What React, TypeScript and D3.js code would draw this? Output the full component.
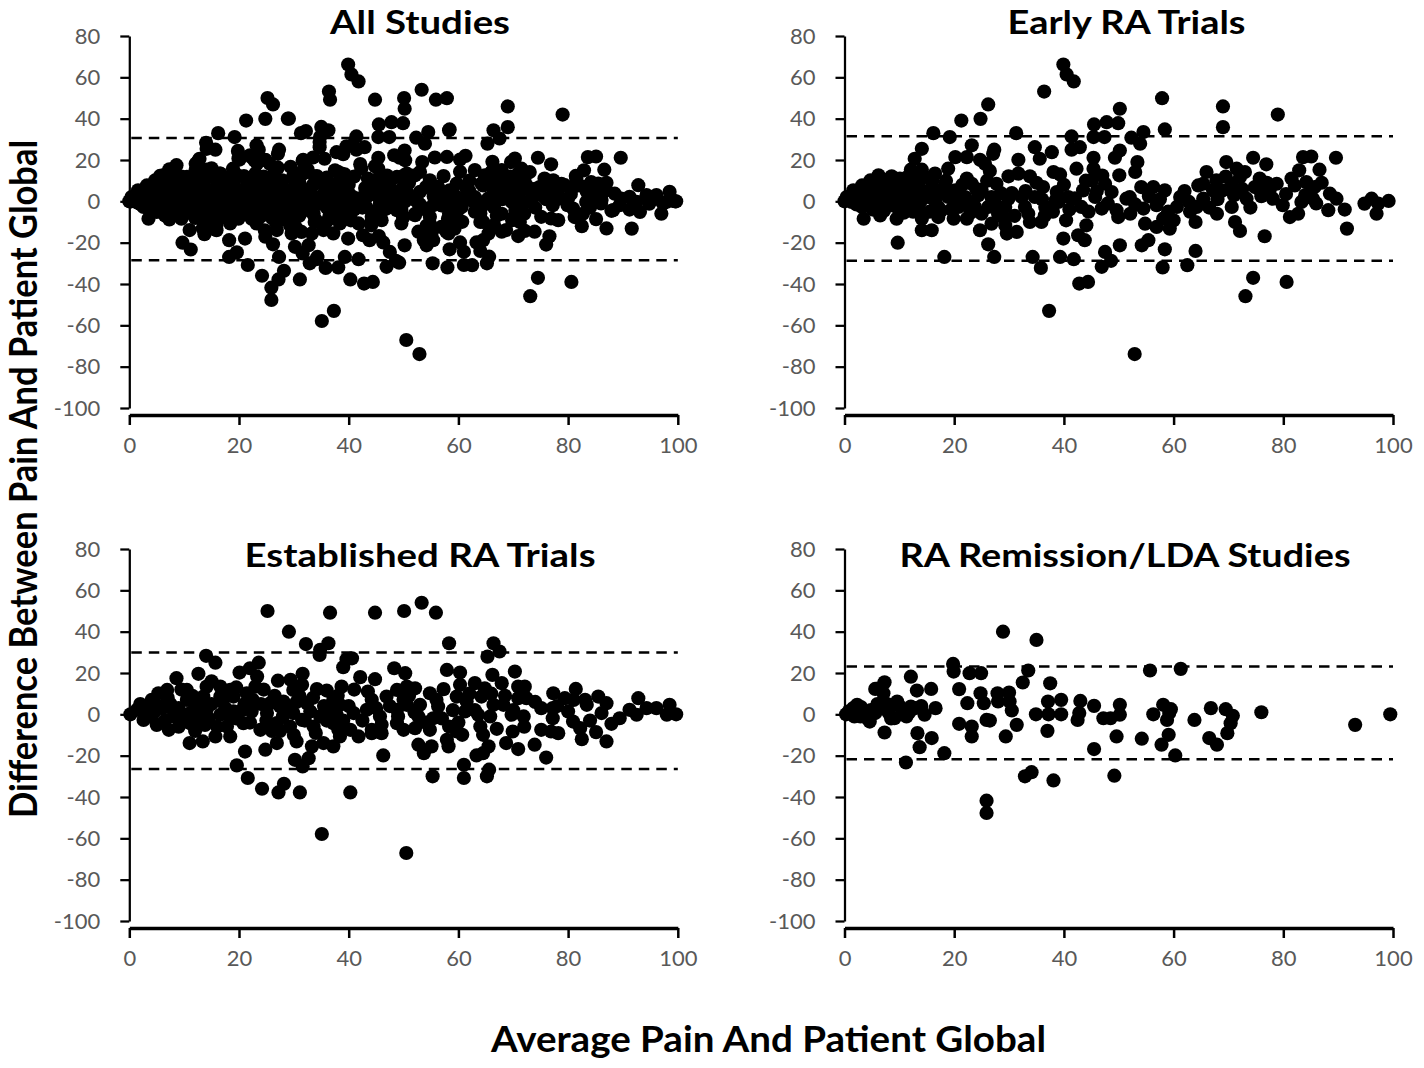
import React, { useEffect, useRef } from "react";
import * as d3 from "d3";

// [average, difference] pairs, per study group
const early: [number, number][] = [
  [0, 0], [0.4, 2.1], [1, 1.5], [1.3, -0.3], [1.6, 5.3], [2, 1], [2.2, -1.5], [2.5, 4], [2.8, 2.5], [3.2, 7.7],
  [3.2, -2.7], [3.5, -8.4], [3.5, 0.5], [3.8, 3.7], [4, 5.5], [4.2, 3], [4.5, -1], [4.7, 10.1], [5, 2.1], [5.2, -4],
  [5.5, 7], [5.8, 4], [6, 0.5], [6.2, 12.6], [6.2, -2.7], [6.5, -6.8], [6.8, 1.5], [7, 9], [7.2, -4.5], [7.4, 6.9],
  [7.5, -1], [7.8, 10.5], [8, 4.5], [8.2, 6], [8.6, 12.1], [8.6, 2.1], [8.8, -2], [9, 8], [9.2, 10], [9.5, 0],
  [9.5, -8.4], [9.7, -20], [9.8, -3.5], [10, 2.5], [10.1, 11], [10.5, 4], [10.8, -5.5], [11, -1.5], [11.1, 6.9], [11.5, 9],
  [11.6, 12], [12, -0.5], [12.1, 15.3], [12.3, 2.1], [12.5, -5], [12.8, 20.6], [12.8, 7], [13, 5], [13.2, 11], [13.5, 8.5],
  [13.5, -2.7], [14, 0.5], [14.1, 25.4], [14.1, 15.3], [14.1, -8.4], [14.1, -14], [14.7, 11.8], [14.8, 4.5], [15.3, 2.1], [15.5, -5],
  [15.9, 6.9], [15.9, -14], [16, 10], [16.2, 33], [16.5, 13.4], [16.5, 0], [17, 4], [17.1, -2.7], [17.1, -7.6], [17.6, -4.5],
  [18, 4], [18.2, -26.9], [18.3, 7.7], [18.5, 10], [18.9, 15.8], [18.9, 2.1], [19.2, 31.1], [19.5, -4], [19.9, -8.4], [20, 0],
  [20.2, 21.4], [20.2, 5.3], [20.8, -2.7], [21, -0.5], [21.3, 39.1], [21.5, 8], [22, 2.1], [22.3, 21.4], [22.3, 11], [22.3, -8.4],
  [22.6, -1], [23, -5.5], [23.2, 27.1], [23.2, 8.5], [23.8, -2.7], [24, 6], [24.4, 2.9], [24.7, 20.1], [24.7, -14], [24.8, 39.9],
  [25, 5.5], [25, -6], [25.6, 18.2], [26, 10], [26.2, 46.9], [26.2, -2.7], [26.2, -20.8], [26.5, 14.7], [26.8, 2.1], [26.8, -10.8],
  [27.1, 23], [27.3, 25], [27.3, -26.9], [27.5, -1], [27.7, 8.5], [28, -6], [28.5, 4], [29, -8], [29.3, -2.7], [29.3, -11.6],
  [29.6, -15.6], [29.9, 12.1], [29.9, 1.3], [30.5, 4], [31, -7], [31.3, 33], [31.4, -14.8], [31.7, 20.1], [31.7, 13.4], [32.3, 2.1],
  [32.9, -2.7], [33, 5], [33.5, -6], [33.8, 12.1], [33.8, -10], [34.3, -26.9], [34.7, 26.2], [34.7, 2.1], [35, 9], [35.6, 20.6],
  [35.8, -32.2], [35.9, -10], [36, 1], [36.2, 6.9], [36.4, 53.1], [36.5, -7], [36.6, -2.7], [36.9, -4.3], [37.3, -53], [37.8, 23.8],
  [38, -5], [38.1, 14.2], [38.5, 0.5], [38.7, 4.5], [39, -0.3], [39.3, 13], [39.3, -26.9], [39.9, 66.2], [39.9, -18], [40, 8],
  [40.4, -9.2], [40.5, 61.4], [40.8, 2.1], [41, -4], [41.4, 31.4], [41.4, 25], [41.8, 58], [41.8, -28], [42, 1.5], [42.3, 15.8],
  [42.6, -16.4], [42.8, -39.8], [42.9, 26.2], [43.2, -2.7], [43.5, 5.3], [43.8, -18.8], [44, 10], [44.1, -11.6], [44.4, -39], [44.5, -5],
  [45.1, 10.1], [45.4, 31.1], [45.4, 21.1], [45.4, 15.8], [45.5, 37.2], [45.7, 2.1], [46, 5], [46.9, -3.5], [46.9, -31.7], [47, 12.5],
  [47.4, 31.1], [47.5, 8.5], [47.5, -24.5], [47.8, 38.3], [48, -1], [48.6, -28.8], [48.7, 4.5], [49.3, 21.1], [49.6, -4.3], [49.9, 37.8],
  [49.9, -7.6], [50.1, 12.6], [50.2, 44.8], [50.2, -21.3], [50.2, 24.6], [51.4, 1.3], [52, 2], [52.1, -6], [52.3, 30.8], [52.9, -73.9],
  [53, 14.2], [53, -1.5], [53.4, 19], [53.9, 27.9], [54.1, 6.9], [54.2, -21.3], [54.5, 33.5], [54.5, -3.5], [54.8, -10.8], [55.4, -18.8],
  [55.5, 2.5], [56.3, 6.9], [56.9, -1.9], [56.9, -12.4], [57.5, 1], [57.9, 49.9], [58, -32], [58.1, -8.4], [58.4, 34.8], [58.4, 5.3],
  [58.4, -23.2], [59, -5], [59.3, -13.2], [60, -9.2], [60.6, -2.7], [61.2, 2.1], [62, 5], [62.5, -30.9], [62.8, -0.3], [63, -5],
  [64, -24], [64, -10], [64.2, -2.7], [64.5, 7.7], [65.4, 8.5], [65.4, 1.3], [66, 14.2], [66.5, -3], [67.2, 5.3], [67.8, 10.1],
  [67.9, -6], [68, 1], [68.9, 5.3], [69, 45.9], [69, 35.9], [69.5, 12], [69.6, 19], [70.6, 8.5], [70.6, -2.7], [71, 3],
  [71.2, -10], [71.5, 15.8], [72.1, 11.8], [72.1, -14.3], [72.5, 6], [73, 14.2], [73.1, -45.9], [73.3, 1.3], [74, -3], [74.5, 21.1],
  [74.5, -37], [74.8, 6.9], [75.7, 11], [75.8, 5.3], [76, 2.5], [76.6, -16.9], [76.9, 17.9], [77, 9], [77.5, 5.3], [78.1, 1.3],
  [78.8, 8.5], [79, 42], [79.9, -1.9], [80.5, 3.5], [80.6, -39], [81.2, -7.6], [81.5, 11], [82.1, 7.7], [82.7, -6], [82.9, 15],
  [83.3, -0.3], [83.6, 21.4], [84, 3], [84.2, 9.3], [85.1, 21.7], [85.4, 1.3], [85.7, 6.9], [86, -1], [86.6, 15.3], [87, 9],
  [88.2, -4.3], [88.5, 3.7], [89.6, 21.1], [89.7, 1.3], [91.2, -4], [91.6, -13.2], [94.8, -1.1], [96.1, 1.3], [97, -6], [97.3, -1.1],
  [99.2, 0.2],
];

const established: [number, number][] = [
  [0.2, 0], [1.4, 2.2], [2, 5], [2.6, -2.7], [3, 4], [3.5, -1], [4.1, 7], [4.5, 1], [5, -5.1], [5.3, 10.2],
  [5.5, 4], [6, 3], [6.5, -3], [6.9, 11.8], [7, 8], [7.2, -7.5], [7.5, 5], [8, 2], [8.1, -1], [8.6, 17.5],
  [9, 3], [9, -6], [9.5, -3], [9.5, 12], [10, -1], [10.5, 11.8], [10.5, 7], [11, -13.9], [11.1, 0.6], [11.1, -4.3],
  [11.5, 9], [12, 4], [12, -8], [12.5, -2], [12.6, 19.6], [13, 3], [13.4, -13.1], [13.5, 8.6], [13.8, -5.1], [14, 28.3],
  [14.1, 13.4], [14.1, 2.2], [14.5, -2], [15, 5], [15, 16], [15.7, 25], [15.7, -10.7], [16, -6], [16.6, 13.4], [16.6, 8.6],
  [16.6, -0.2], [17, 6], [17.5, 3], [17.8, -5.9], [18, 0], [18.4, 11.8], [18.4, -10.7], [19, 8.6], [19, 1.4], [19.5, -2],
  [19.5, 13], [19.6, -24.7], [20.1, 20.2], [20.5, 2], [20.8, -4.3], [21, 5], [21.1, -18], [21.4, 10.2], [21.6, -30.8], [22, 22.3],
  [22, -4], [22.3, 1.4], [22.5, 7], [23, 13.4], [23.3, 18.3], [23.6, 25], [23.9, -7.5], [24, 5], [24.2, -36], [24.5, 12],
  [24.8, -17.1], [25, -3], [25.1, 0.6], [25.2, 50], [25.7, 5.4], [26, -8], [26.5, 9], [26.9, -4.3], [26.9, -13.9], [27.1, 16.3],
  [27.2, -37.8], [27.5, 3.8], [27.5, -8], [28, -1], [28.1, 6.2], [28.2, -33.6], [29, 3], [29.1, 40], [29.3, -5.9], [29.4, 16.7],
  [29.9, 11.8], [29.9, 0.6], [30, -10], [30.2, -22], [30.5, -13.1], [30.5, 6], [31, 9], [31.1, -37.8], [31.5, 14.3], [31.5, -2.7],
  [31.6, 19.6], [31.6, -25.2], [32, -3], [32.2, 34], [32.4, 5.4], [32.7, -21.2], [33, 1.4], [33.3, -15.5], [33.5, 8], [33.6, -5.9],
  [34, -9], [34.2, 12.2], [34.7, 28.7], [34.8, 31.2], [34.8, -1], [35.1, -57.9], [35.4, -13.9], [35.5, 4], [36, 11.5], [36, -3],
  [36.3, 34.4], [36.5, 2], [36.6, 49.2], [37.2, 7], [37.2, -4.3], [37.2, -15.5], [37.8, -0.2], [38, 9], [38.1, -7.5], [38.4, 4.6],
  [38.4, -10.7], [38.7, 13.4], [39, 22.8], [39, -3], [39.6, 26.6], [40, 4], [40.3, -7.5], [40.3, -37.8], [40.6, 27.1], [40.9, 0.6],
  [41, 12], [41.8, -10.7], [42.1, 18], [42.5, -3], [43.3, 2.2], [43.5, 11], [44.2, 7], [44.2, -7.5], [44.2, -9.1], [44.8, 49.2],
  [44.8, 17], [45, 3], [45.7, -1], [46, -9.1], [46, -5], [46.3, -19.9], [46.9, 8.6], [47.5, 4], [48.3, 22.3], [48.8, 11.8],
  [48.8, 2.2], [48.8, -4.3], [49, -1], [50, 7], [50, -7.5], [50.1, 50], [50.3, 19.9], [50.5, -67.1], [50.6, 13.4], [50.6, 4.6],
  [51, 9], [52, 1], [52.1, 12.6], [52.1, -6.7], [52.7, -1], [52.7, -14.7], [53, 4.6], [53.3, 54], [53.7, -18.8], [54, -4],
  [54.8, 10.2], [54.8, -7.5], [55.1, -15.5], [55.3, -30], [55.4, -1.9], [55.9, 49.2], [56, 7], [56.3, 3.8], [57, -2], [57.3, 12.2],
  [57.9, 21.5], [57.9, -12.3], [58.2, -15.5], [58.3, 34.4], [58.3, -5.9], [59, 2], [59.7, 8.6], [59.7, -8.3], [60, -4], [60.3, 20.2],
  [60.3, 14.3], [60.7, -9.9], [61, -24.4], [61, -30.8], [61.2, 1.4], [61.5, 6.2], [62, 10], [63, 15.1], [63, 2], [63.3, -19.9],
  [63.6, -0.2], [64, -5.9], [64.2, 8.6], [64.5, -9.9], [64.5, -18.8], [64.8, 12.6], [65.2, -30], [65.3, 27.9], [65.5, -15.5], [65.6, -26.8],
  [65.8, -1], [66, 10], [66.2, 19.1], [66.4, 34.4], [66.4, 4.6], [67, -7], [67.5, 30.4], [67.9, 15.1], [68.2, 4.6], [68.5, 9],
  [68.7, -13.9], [69.7, -0.2], [69.9, -8.3], [70, 2], [70.3, 20.7], [70.9, 13.4], [70.9, 7.8], [70.9, -16.8], [71.9, -1], [72, -6],
  [72.1, 13.4], [72.4, 7.8], [73.9, -14.7], [74, 6], [75.1, 3], [75.1, -7.5], [76, -20.9], [76.9, -8.3], [77.2, 3], [77.2, -1.9],
  [77.3, 10.2], [78, 4], [78.2, -9.1], [79.4, 7.8], [80, 1.4], [80.9, -3.5], [81, 7], [81.4, 12.3], [82.2, -6.7], [82.5, -12],
  [83.1, 7], [83.4, 4.6], [84, -3], [85.1, -8.6], [85.5, 8.6], [86.1, 0.6], [87, 5.4], [87, -13.1], [87.9, -4.6], [89.4, -1.9],
  [91.2, 2.2], [92.5, -0.2], [92.8, 7.8], [94.3, 3], [96.1, 3], [98, -0.2], [98.5, 4.6], [99.7, 0],
];

const remission: [number, number][] = [
  [0.3, 0], [0.8, 1.5], [1.2, 0.6], [1.6, 3], [1.8, -1], [2.1, 2.2], [2.3, 4.6], [2.9, -1], [3, 3.5], [3.5, 1.5],
  [3.8, 0.5], [4.2, -2], [4.6, -3.5], [4.8, 2], [5.6, 0.6], [5.6, 12.3], [6, 5], [6.3, 12.6], [6.9, 3.7], [7.1, 10.2],
  [7.3, 15.5], [7.3, -8.8], [7.8, 5], [8, 1], [8.5, -2], [9.1, -1.9], [9.6, 6.2], [10, 4], [10.5, 2], [11.2, -23.3],
  [11.3, -1], [11.8, 1], [12.1, 18.2], [12.1, 3.8], [12.8, 3], [13.2, 11.5], [13.3, -9.1], [13.7, -15.9], [14, 4], [14.6, -0.2],
  [15.8, 12.3], [15.9, -11.5], [16.6, 3], [18.2, -18.8], [19.8, 24.4], [19.9, 20.7], [20.9, 12.2], [20.9, -4.6], [22.4, 5.4], [22.8, 19.9],
  [23.2, -5.9], [23.2, -10.7], [24.8, 10.2], [24.9, 19.9], [25.4, 5.4], [25.9, -2.7], [25.9, -41.8], [25.9, -47.7], [26.5, -3], [27.9, 10.2],
  [28, 6.2], [28.9, 40], [29.4, -10.7], [30, 10.5], [30.1, 6.2], [30.5, 1.9], [31.4, -5.1], [32.5, 15.4], [32.9, -30], [33.5, 21.2],
  [34.1, -28], [34.9, 0], [35, 36], [37, -8], [37.1, 6.2], [37.2, 0], [37.5, 15], [38.1, -32], [39.5, 7], [39.5, 0],
  [42.5, -2.7], [42.8, 0.6], [43, 6.5], [45.5, 4.1], [45.5, -16.8], [47.2, -1.9], [48.5, -1.9], [49.2, -29.7], [49.6, -10.7], [50.2, 4.6],
  [50.2, -0.2], [54.2, -11.8], [55.7, 21.2], [56.3, 0], [57.8, -14.7], [58.1, 4.6], [58.8, -2.7], [59.2, 0.6], [59.1, -9.9], [59.5, 2.5],
  [60.3, -19.9], [61.3, 22], [63.8, -2.7], [66.5, -11.5], [66.8, 3], [67.9, -14.7], [69.5, 2.5], [69.8, -9.1], [70.4, -4.3], [70.8, -0.7],
  [76, 1], [93.1, -5.1], [99.5, 0],
];

// "All Studies" is the pooled set of the three groups
const allStudies: [number, number][] = [...early, ...established, ...remission];

const panelTitles = ["All Studies", "Early RA Trials", "Established RA Trials", "RA Remission/LDA Studies"];
const upperLimits = [30.6, 31.5, 29.9, 23.1];
const lowerLimits = [-28.5, -28.8, -26.5, -21.7];
const xTicks = [0, 20, 40, 60, 80, 100];
const yTicks = [-100, -80, -60, -40, -20, 0, 20, 40, 60, 80];

const App = () => {
  const svgRef = useRef<SVGSVGElement>(null);

  useEffect(() => {
    const svg = d3.select(svgRef.current);
    svg.selectAll("*").remove();

    const datasets = [allStudies, early, established, remission];
    // plot frames in pixels
    const layout = [
      { left: 129.3, top: 36, tx: 420, ty: 34, tw: 180 },
      { left: 844.5, top: 36, tx: 1126.5, ty: 34, tw: 238 },
      { left: 129.3, top: 549, tx: 420, ty: 567, tw: 351 },
      { left: 844.5, top: 549, tx: 1125, ty: 567, tw: 451 },
    ];
    const plotW = 548.5;
    const plotH = 372;
    const font = "Lato, 'Open Sans', sans-serif";

    layout.forEach((p, i) => {
      const x = d3.scaleLinear().domain([0, 100]).range([p.left, p.left + plotW]);
      const y = d3.scaleLinear().domain([-100, 80]).range([p.top + plotH, p.top]);
      const g = svg.append("g");

      // Eje Y
      const yAxis = g
        .append("g")
        .attr("transform", `translate(${p.left},0)`)
        .call(
          d3
            .axisLeft(y)
            .tickValues(yTicks)
            .tickSize(9)
            .tickSizeOuter(0)
            .tickPadding(20)
            .tickFormat((d) => String(d))
        )
        .attr("font-family", font)
        .attr("font-size", 22);
      yAxis.select(".domain").attr("stroke", "#000").attr("stroke-width", 2.25);
      yAxis.selectAll(".tick line").attr("stroke", "#000").attr("stroke-width", 2.25);
      yAxis.selectAll(".tick text").attr("fill", "#595959");

      // Eje X (sits a little below the -100 tick)
      const xAxis = g
        .append("g")
        .attr("transform", `translate(0,${y(-100) + 7})`)
        .call(
          d3
            .axisBottom(x)
            .tickValues(xTicks)
            .tickSize(10)
            .tickSizeOuter(0)
            .tickPadding(12)
            .tickFormat((d) => String(d))
        )
        .attr("font-family", font)
        .attr("font-size", 22);
      xAxis.select(".domain").attr("stroke", "#000").attr("stroke-width", 3.5);
      xAxis.selectAll(".tick line").attr("stroke", "#000").attr("stroke-width", 2.5);
      xAxis.selectAll(".tick text").attr("fill", "#595959");

      // limits of agreement
      [upperLimits[i], lowerLimits[i]].forEach((v) => {
        g.append("line")
          .attr("x1", x(0) + 2)
          .attr("x2", x(100))
          .attr("y1", y(v))
          .attr("y2", y(v))
          .attr("stroke", "#000")
          .attr("stroke-width", 2.5)
          .attr("stroke-dasharray", "10.5,7");
      });

      // points
      g.append("g")
        .selectAll("circle")
        .data(datasets[i])
        .join("circle")
        .attr("cx", (d) => x(d[0]))
        .attr("cy", (d) => y(d[1]))
        .attr("r", 7.1)
        .attr("fill", "#000");

      g.append("text")
        .attr("x", p.tx)
        .attr("y", p.ty)
        .attr("text-anchor", "middle")
        .attr("font-family", font)
        .attr("font-weight", "bold")
        .attr("font-size", 32)
        .attr("textLength", p.tw)
        .attr("lengthAdjust", "spacingAndGlyphs")
        .attr("fill", "#000")
        .text(panelTitles[i]);
    });

    svg
      .append("text")
      .attr("transform", "translate(37,479) rotate(-90)")
      .attr("text-anchor", "middle")
      .attr("font-family", font)
      .attr("font-weight", "bold")
      .attr("font-size", 38)
      .attr("textLength", 678)
      .attr("lengthAdjust", "spacingAndGlyphs")
      .attr("fill", "#000")
      .text("Difference Between Pain And Patient Global");

    svg
      .append("text")
      .attr("x", 768.5)
      .attr("y", 1052)
      .attr("text-anchor", "middle")
      .attr("font-family", font)
      .attr("font-weight", "bold")
      .attr("font-size", 36)
      .attr("textLength", 555)
      .attr("lengthAdjust", "spacingAndGlyphs")
      .attr("fill", "#000")
      .text("Average Pain And Patient Global");
  }, []);

  return (
    <svg
      ref={svgRef}
      width={1424}
      height={1068}
      style={{ position: "absolute", left: 0, top: 0, background: "#fff" }}
    ></svg>
  );
};

export default App;
